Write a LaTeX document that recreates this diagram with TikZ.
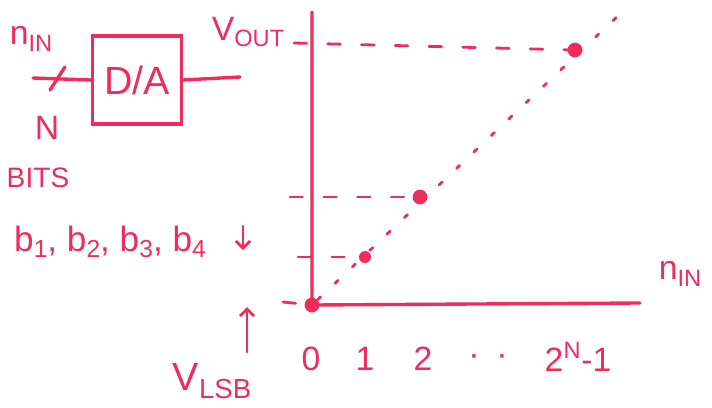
\documentclass[tikz,border=0pt]{standalone}
\usepackage{fontspec}
\setmainfont{Liberation Sans}
\usepackage{graphicx}
\usetikzlibrary{positioning, arrows.meta}
\definecolor{ink}{HTML}{EE2D5C}

\newcommand{\lowtext}[1]{\raisebox{-0.35ex}{\scalebox{0.7}{#1}}}

\begin{document}
\begin{tikzpicture}[x=0.025cm, y=-0.025cm,
  every node/.style={text=ink, font=\fontsize{24}{26}\selectfont, inner sep=0pt},
  pen/.style={draw=ink, line width=2.4pt, line cap=round},
  box/.style={pen, minimum width=2.22cm, minimum height=2.2cm},
  dot/.style={circle, fill=ink, minimum size=#1, inner sep=0pt},
  dot/.default=0.37cm,
  dashline/.style={pen, line width=2pt, dash pattern=on 9pt off 15pt},
  dotline/.style={pen, line width=2pt, dash pattern=on 3pt off 14pt},
  marker/.style={pen, line width=2pt, -{Straight Barb[length=5pt, width=10pt]}}
]
  \useasboundingbox (0,0) rectangle (712,408);

  % converter block
  \node (nin) at (31,39) {n\lowtext{IN}};
  \node[box] (da) at (137,80) {\fontsize{28}{30}\selectfont D/A};
  \coordinate (in) at (33,78);
  \coordinate (out) at (240,77);
  \draw[pen] (in) -- (da.west);
  \draw[pen] (in) ++(17,12) -- ++(15,-23);
  \draw[pen] (da.east) -- (out);
  \node (nbits) at (47,128) {N};
  \node[font=\fontsize{20}{22}\selectfont] (bits) at (38,178) {BITS};
  \node[font=\fontsize{25}{27}\selectfont] (bword) at (110,242)
    {b\lowtext{1}, b\lowtext{2}, b\lowtext{3}, b\lowtext{4}};

  % axes
  \coordinate (o) at (312,305);
  \coordinate (ytop) at (312,12);
  \coordinate (xend) at (640,303);
  \draw[pen] (ytop) -- (o) -- (xend);
  \node (vout) at (248,32) {V\lowtext{OUT}};
  \node (nx) at (680,274) {n\lowtext{IN}};

  % transfer points
  \node[dot] (p0) at (o) {};
  \node[dot=0.3cm] (p1) at (365,257) {};
  \node[dot] (p2) at (420,197) {};
  \node[dot] (pmax) at (575,50) {};
  \coordinate (tip) at (622,12);
  \draw[dotline] (p0) -- (tip);

  % level lines
  \coordinate (lmax) at (294,43);
  \coordinate (l2) at (290,197);
  \coordinate (l1) at (298,257);
  \coordinate (l0) at (283,302);
  \draw[dashline] (lmax) -- (pmax);
  \draw[dashline] (l2) -- (p2);
  \draw[dashline] (l1) -- (p1);
  \draw[dashline] (l0) -- (p0);

  % code values
  \node (t0) at (311,359) {0};
  \node (t1) at (365,359) {1};
  \node (t2) at (423,359) {2};
  \node (tdots) at (488,360) {·\hspace{0.5em}·};
  \node (tn) at (578,357) {2\textsuperscript{N}-1};

  % step size
  \coordinate (dn0) at (243,226);
  \coordinate (dn1) at (243,250);
  \coordinate (up0) at (247,352);
  \coordinate (up1) at (247,307);
  \draw[marker] (dn0) -- (dn1);
  \draw[marker] (up0) -- (up1);
  \node[font=\fontsize{28}{30}\selectfont] (vlsb) at (212,381) {V\lowtext{LSB}};
\end{tikzpicture}
\end{document}
